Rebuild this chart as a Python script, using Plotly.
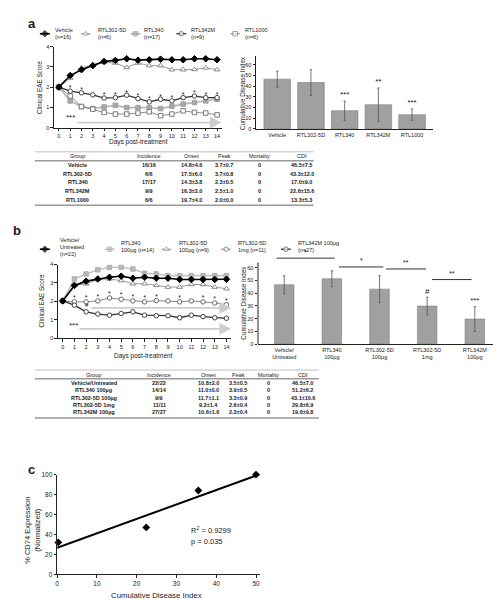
import plotly.graph_objects as go
import numpy as np

W, H = 501, 600
def px(x):
    return x / W
def py(y):
    return 1 - y / H

FONT = "Arial, Liberation Sans, sans-serif"
INK = "#1a1a1a"

# ---------------- DATA ----------------
days = list(range(15))

# panel a: clinical scores
a_vehicle = [2.0, 2.57, 2.86, 3.06, 3.27, 3.32, 3.4, 3.33, 3.35, 3.38, 3.35, 3.35, 3.4, 3.4, 3.35]
a_rtl3025d = [2.0, 2.45, 2.95, 3.1, 3.22, 3.19, 2.97, 3.19, 3.06, 3.06, 2.86, 2.86, 2.87, 2.95, 2.86]
a_rtl340 = [2.0, 1.32, 1.04, 0.94, 1.02, 1.1, 0.99, 0.99, 0.99, 0.94, 1.06, 1.16, 1.24, 1.32, 1.4]
a_rtl342m = [2.0, 1.8, 1.72, 1.62, 1.46, 1.48, 1.6, 1.43, 1.27, 1.4, 1.32, 1.48, 1.56, 1.48, 1.48]
a_rtl1000 = [2.0, 1.56, 1.04, 0.91, 0.75, 0.67, 0.67, 0.72, 0.78, 0.59, 0.67, 0.83, 0.75, 0.72, 0.63]
a_star_days = [1, 2, 4, 5, 6, 7, 8, 9, 10, 11, 12, 13, 14]

# panel a: CDI bars
a_groups = ["Vehicle", "RTL302-5D", "RTL340", "RTL342M", "RTL1000"]
a_cdi = [46.5, 43.3, 17.0, 22.6, 13.3]
a_cdi_err = [7.5, 12.0, 9.0, 15.6, 5.3]
a_sig = ["", "", "***", "**", "***"]

# panel a: table
tab_header = ["Group", "Incidence", "Onset", "Peak", "Mortality", "CDI"]
a_incidence = ["16/16", "6/6", "17/17", "9/9", "6/6"]
a_onset = ["14.8±4.6", "17.5±6.0", "14.3±3.8", "16.3±2.0", "19.7±4.0"]
a_peak = ["3.7±0.7", "3.7±0.8", "2.3±0.5", "2.5±1.0", "2.0±0.0"]
a_mortality = ["0", "0", "0", "0", "0"]
a_cdi_txt = ["46.5±7.5", "43.3±12.0", "17.0±9.0", "22.6±15.6", "13.3±5.3"]

# panel b: clinical scores
b_vehicle = [2.03, 2.87, 3.1, 3.22, 3.31, 3.37, 3.26, 3.31, 3.26, 3.26, 3.19, 3.19, 3.19, 3.19, 3.2]
b_rtl340 = [2.03, 3.22, 3.49, 3.72, 3.85, 3.85, 3.76, 3.53, 3.49, 3.4, 3.4, 3.4, 3.4, 3.4, 3.4]
b_302_100 = [2.03, 2.87, 2.96, 3.19, 3.22, 3.13, 2.96, 2.96, 2.87, 2.78, 2.78, 2.92, 2.92, 2.78, 2.69]
b_302_1mg = [2.03, 1.98, 1.98, 2.03, 2.19, 2.12, 2.03, 1.98, 2.05, 2.03, 1.98, 2.03, 1.98, 1.92, 1.83]
b_342m = [2.03, 1.8, 1.44, 1.32, 1.26, 1.35, 1.44, 1.26, 1.23, 1.23, 1.12, 1.26, 1.18, 1.12, 1.09]
b_star_days = [1, 2, 3, 4, 5, 6, 7, 8, 10, 12, 13, 14]

# panel b: CDI bars
b_groups = ["Vehicle/<br>Untreated", "RTL340<br>100µg", "RTL302-5D<br>100µg", "RTL302-5D<br>1mg", "RTL342M<br>100µg"]
b_cdi = [46.5, 51.2, 43.1, 29.8, 19.6]
b_cdi_err = [7.0, 6.2, 10.6, 6.9, 9.8]
b_sig = ["", "", "", "#", "***"]
b_bracket_labels = ["*", "*", "**", "**"]
b_bracket_from = [-0.16, 1.15, 2.14, 3.1]
b_bracket_to = [1.06, 2.08, 2.98, 3.93]
b_bracket_level = [67.4, 60.5, 58.9, 50.6]

# panel b: table
b_tab_groups = ["Vehicle/Untreated", "RTL340 100µg", "RTL302-5D 100µg", "RTL302-5D 1mg", "RTL342M 100µg"]
b_incidence = ["22/22", "14/14", "9/9", "11/11", "27/27"]
b_onset = ["10.8±2.0", "11.0±0.0", "11.7±1.1", "9.3±1.4", "10.6±1.6"]
b_peak = ["3.5±0.5", "3.9±0.5", "3.3±0.9", "2.6±0.4", "2.3±0.4"]
b_mortality = ["0", "0", "0", "0", "0"]
b_cdi_txt = ["46.5±7.0", "51.2±6.2", "43.1±10.6", "29.8±6.9", "19.6±9.8"]

# panel c
c_cdi = [0.3, 22.4, 35.5, 50.0]
c_cd74 = [32, 47, 84, 100]
c_r2 = "0.9299"
c_p = "0.035"

# ---------------- FIGURE ----------------
fig = go.Figure()

def add_series(xa, ya, x, y, color, lw, symbol, msize, mfill, mline):
    fig.add_trace(go.Scatter(
        x=x, y=y, xaxis=xa, yaxis=ya, mode="lines+markers",
        line=dict(color=color, width=lw),
        marker=dict(symbol=symbol, size=msize, color=mfill, line=dict(color=mline, width=1)),
        showlegend=False, hoverinfo="skip"))

# styles: (color, width, symbol, size, fill, outline)
A_STY = [
    ("#9a9a9a", 1.0, "triangle-up", 5, "white", "#8a8a8a"),   # RTL302-5D
    ("#b5b5b5", 1.6, "square", 4.5, "#a8a8a8", "#a0a0a0"),     # RTL340
    ("#8c8c8c", 1.0, "square", 4.5, "white", "#7a7a7a"),       # RTL1000
    ("#333333", 1.3, "circle", 4.5, "white", "#444444"),       # RTL342M
    ("#000000", 1.6, "diamond", 5, "#000000", "#000000"),      # Vehicle
]
add_series("x", "y", days, a_rtl3025d, *A_STY[0])
add_series("x", "y", days, a_rtl340, *A_STY[1])
add_series("x", "y", days, a_rtl1000, *A_STY[2])
add_series("x", "y", days, a_rtl342m, *A_STY[3])
add_series("x", "y", days, a_vehicle, *A_STY[4])

fig.add_trace(go.Scatter(
    x=a_star_days, y=[a_rtl342m[d] + 0.12 for d in a_star_days], xaxis="x", yaxis="y",
    mode="text", text=["*"] * len(a_star_days),
    textfont=dict(family=FONT, size=7, color=INK), showlegend=False, hoverinfo="skip"))

# panel a bars
fig.add_trace(go.Bar(
    x=a_groups, y=a_cdi, xaxis="x2", yaxis="y2", width=0.79,
    marker=dict(color="#a0a0a0", line=dict(color="#7d7d7d", width=0.6)),
    error_y=dict(type="data", array=a_cdi_err, color="#555555", thickness=0.8, width=1.2),
    showlegend=False, hoverinfo="skip"))
a_sig_idx = [i for i, s in enumerate(a_sig) if s]
fig.add_trace(go.Scatter(
    x=[a_groups[i] for i in a_sig_idx],
    y=[a_cdi[i] + a_cdi_err[i] + 6 for i in a_sig_idx], xaxis="x2", yaxis="y2",
    mode="text", text=[a_sig[i] for i in a_sig_idx], textfont=dict(family=FONT, size=8, color=INK),
    showlegend=False, hoverinfo="skip"))

# panel b lines
B_STY = [
    ("#c4c4c4", 1.6, "square", 4.5, "#b8b8b8", "#b0b0b0"),     # RTL340 100
    ("#9a9a9a", 1.0, "triangle-up", 5, "white", "#8a8a8a"),    # RTL302-5D 100
    ("#8a8a8a", 1.0, "circle", 4.5, "white", "#6a6a6a"),       # RTL302-5D 1mg
    ("#333333", 1.3, "circle", 4.5, "white", "#444444"),       # RTL342M 100
    ("#000000", 1.6, "diamond", 5, "#000000", "#000000"),      # Vehicle
]
add_series("x3", "y3", days, b_rtl340, *B_STY[0])
add_series("x3", "y3", days, b_302_100, *B_STY[1])
add_series("x3", "y3", days, b_302_1mg, *B_STY[2])
add_series("x3", "y3", days, b_342m, *B_STY[3])
add_series("x3", "y3", days, b_vehicle, *B_STY[4])
fig.add_trace(go.Scatter(
    x=b_star_days, y=[b_302_1mg[d] + 0.2 for d in b_star_days], xaxis="x3", yaxis="y3",
    mode="text", text=["*"] * len(b_star_days),
    textfont=dict(family=FONT, size=7, color=INK), showlegend=False, hoverinfo="skip"))

# panel b bars
fig.add_trace(go.Bar(
    x=b_groups, y=b_cdi, xaxis="x4", yaxis="y4", width=0.41,
    marker=dict(color="#a0a0a0", line=dict(color="#7d7d7d", width=0.6)),
    error_y=dict(type="data", array=b_cdi_err, color="#555555", thickness=0.8, width=1.2),
    showlegend=False, hoverinfo="skip"))
b_sig_idx = [i for i, s in enumerate(b_sig) if s]
fig.add_trace(go.Scatter(
    x=[b_groups[i] for i in b_sig_idx],
    y=[b_cdi[i] + b_cdi_err[i] + 4.5 for i in b_sig_idx], xaxis="x4", yaxis="y4",
    mode="text", text=[b_sig[i] for i in b_sig_idx], textfont=dict(family=FONT, size=8, color=INK),
    showlegend=False, hoverinfo="skip"))

# panel c
slope, intercept = np.polyfit(c_cdi, c_cd74, 1)
fit_x = np.array([0.0, 50.8])
fig.add_trace(go.Scatter(
    x=fit_x, y=slope * fit_x + intercept, xaxis="x5", yaxis="y5", mode="lines",
    line=dict(color="#000000", width=2), showlegend=False, hoverinfo="skip", cliponaxis=False))
fig.add_trace(go.Scatter(
    x=c_cdi, y=c_cd74, xaxis="x5", yaxis="y5", mode="markers",
    marker=dict(symbol="diamond", size=6, color="#000000"),
    showlegend=False, hoverinfo="skip", cliponaxis=False))

# ---------------- manual legends (overlay axis in pixel units) ----------------
A_LEG_TXT = ["Vehicle<br>(n=16)", "RTL302-5D<br>(n=6)", "RTL340<br>(n=17)", "RTL342M<br>(n=9)", "RTL1000<br>(n=6)"]
A_LEG_STY = [A_STY[4], A_STY[0], A_STY[1], A_STY[3], A_STY[2]]
A_LEG_MX = [35, 76, 126, 172, 226]
A_LEG_TX = [43, 86, 133, 180, 234]
B_LEG_TXT = ["Vehicle/<br>Untreated<br>(n=22)", "RTL340<br>100µg (n=14)", "RTL302-5D<br>100µg (n=9)",
             "RTL302-5D<br>1mg (n=11)", "RTL342M 100µg<br>(n=27)"]
B_LEG_STY = [B_STY[4], B_STY[0], B_STY[1], B_STY[2], B_STY[3]]
B_LEG_MX = [35, 100, 157, 217, 277]
B_LEG_TX = [48, 109, 168, 227, 287]

annotations = []

def legend_row(mxs, my, stys, txs, ty, texts):
    for mx, sty, tx, t in zip(mxs, stys, txs, texts):
        color, lw, sym, ms, fill, ol = sty
        fig.add_trace(go.Scatter(
            x=[mx - 5, mx, mx + 5], y=[my, my, my], xaxis="x6", yaxis="y6",
            mode="lines+markers", line=dict(color=color, width=lw),
            marker=dict(symbol=sym, size=[0, ms, 0], color=fill, line=dict(color=ol, width=1)),
            showlegend=False, hoverinfo="skip"))
        annotations.append(dict(
            x=px(tx), y=py(ty), xref="paper", yref="paper", text=t, showarrow=False,
            xanchor="left", yanchor="middle", align="left",
            font=dict(family=FONT, size=5.5, color=INK)))

legend_row(A_LEG_MX, 22, A_LEG_STY, A_LEG_TX, 22, A_LEG_TXT)
legend_row(B_LEG_MX, 240, B_LEG_STY, B_LEG_TX, 237.5, B_LEG_TXT)

# ---------------- text annotations ----------------
def txt(x, y, t, size, angle=0, bold=False, anchor="center"):
    annotations.append(dict(
        x=px(x), y=py(y), xref="paper", yref="paper",
        text=("<b>%s</b>" % t) if bold else t, showarrow=False, textangle=angle,
        xanchor=anchor, yanchor="middle", align="center",
        font=dict(family=FONT, size=size, color=INK)))

txt(22, 12, "a", 13, bold=True)
txt(7, 221, "b", 13, bold=True)
txt(22, 463, "c", 13, bold=True)

txt(29, 76, "Clinical EAE Score", 6.3, angle=-90)
txt(129, 132, "Days post-treatment", 6.5)
txt(233, 82, "Cumulative Disease Index", 6.3, angle=-90)
txt(32, 292, "Clinical EAE Score", 6.3, angle=-90)
txt(134, 348, "Days post-treatment", 6.5)
txt(235, 294, "Cumulative Disease Index", 6.3, angle=-90)
txt(23, 524, "% CD74 Expression<br>(Normalized)", 7.5, angle=-90)
txt(147, 590, "Cumulative Disease Index", 7.8)
txt(180, 524, "R<sup>2</sup> = " + c_r2, 7.5, anchor="left")
txt(180, 536, "p = " + c_p, 7.5, anchor="left")

# in-plot significance marks
annotations.append(dict(x=1.05, y=0.5, xref="x", yref="y", text="***", showarrow=False,
                        font=dict(family=FONT, size=8, color=INK)))
annotations.append(dict(x=0.93, y=0.72, xref="x3", yref="y3", text="***", showarrow=False,
                        font=dict(family=FONT, size=8, color=INK)))
annotations.append(dict(x=2.1, y=1.8, xref="x3", yref="y3", text="#", showarrow=False,
                        font=dict(family=FONT, size=6, color=INK)))

# gray arrows
for xr, yr, x0, yv in [("x", "y", 1.5, 0.25), ("x3", "y3", 2.3, 1.65), ("x3", "y3", 1.3, 0.52)]:
    annotations.append(dict(x=14.4, y=yv, ax=x0, ay=yv, xref=xr, yref=yr, axref=xr, ayref=yr,
                            text="", showarrow=True, arrowhead=2, arrowsize=1.3, arrowwidth=1.8,
                            arrowcolor="#cdcdcd"))

# brackets in panel b bars
shapes = []
for lab, f, t, lv in zip(b_bracket_labels, b_bracket_from, b_bracket_to, b_bracket_level):
    shapes.append(dict(type="line", xref="x4", yref="y4", x0=f, x1=t, y0=lv, y1=lv,
                       line=dict(color="#333333", width=1)))
    annotations.append(dict(x=(f + t) / 2, y=lv + 0.4, xref="x4", yref="y4", text=lab,
                            showarrow=False, yanchor="bottom",
                            font=dict(family=FONT, size=7, color=INK)))
# y axis line for panel b bars (axis ends at 64)
shapes.append(dict(type="line", xref="x4 domain", yref="y4", x0=0, x1=0, y0=0, y1=64,
                   line=dict(color="#222222", width=1)))

# ---------------- tables ----------------
def table(cols_x, y_head, y_rows, rules, x0, x1, group_col, other_cols):
    for cx, h in zip(cols_x, tab_header):
        txt(cx, y_head, h, 5.5)
    for i, yr in enumerate(y_rows):
        txt(cols_x[0], yr, group_col[i], 5.5, bold=True)
        for cx, col in zip(cols_x[1:], other_cols):
            txt(cx, yr, col[i], 5.5, bold=True)
    for k, ry in enumerate(rules):
        shapes.append(dict(type="line", xref="paper", yref="paper", x0=px(x0), x1=px(x1),
                           y0=py(ry), y1=py(ry),
                           line=dict(color="#b0b0b0" if k == 0 else "#999999",
                                     width=0.8 if k == 0 else 1.5)))

table([68, 140, 182, 215, 250, 293], 146, [155, 164, 172.5, 181.5, 190.5], [141.5, 150.5, 195.5],
      25, 305, a_groups, [a_incidence, a_onset, a_peak, a_mortality, a_cdi_txt])
table([84, 150, 199, 229, 260, 294], 367.3, [375.3, 382.7, 390.5, 397.7, 405], [362.3, 371, 410.7],
      25, 310, b_tab_groups, [b_incidence, b_onset, b_peak, b_mortality, b_cdi_txt])

# ---------------- axes ----------------
def ax(**kw):
    d = dict(showline=True, linecolor="#222222", linewidth=1, ticks="outside", ticklen=2.5,
             tickwidth=1, tickcolor="#222222", showgrid=False, zeroline=False,
             tickfont=dict(family=FONT, size=5.5, color=INK), fixedrange=True)
    d.update(kw)
    return d

fig.update_layout(
    width=W, height=H, margin=dict(l=0, r=0, t=0, b=0),
    paper_bgcolor="white", plot_bgcolor="rgba(0,0,0,0)",
    font=dict(family=FONT, color=INK), showlegend=False,
    xaxis=ax(domain=[px(44), px(213)], range=[-0.45, 14.45], tickvals=days, anchor="y"),
    yaxis=ax(domain=[py(117), py(35)], range=[0, 4], dtick=1, anchor="x"),
    xaxis2=ax(domain=[px(247), px(425)], range=[-0.63, 4.63], type="category", anchor="y2",
              ticks=""),
    yaxis2=ax(domain=[py(118.3), py(118.3 - 68 * 1.083)], range=[0, 68],
              tickvals=[0, 10, 20, 30, 40, 50, 60], anchor="x2"),
    xaxis3=ax(domain=[px(48), px(222)], range=[-0.42, 14.4], tickvals=days, anchor="y3"),
    yaxis3=ax(domain=[py(330.3), py(255.5)], range=[0, 4], dtick=1, anchor="x3"),
    xaxis4=ax(domain=[px(249), px(493)], range=[-0.55, 4.55], type="category", anchor="y4",
              ticks=""),
    yaxis4=ax(domain=[py(336), py(336 - 72 * 1.29)], range=[0, 72], showline=False,
              tickvals=[0, 10, 20, 30, 40, 50, 60], anchor="x4"),
    xaxis5=ax(domain=[px(47.3), px(251)], range=[0, 51], tickvals=[0, 10, 20, 30, 40, 50],
              anchor="y5", tickfont=dict(family=FONT, size=6.5, color=INK)),
    yaxis5=ax(domain=[py(569), py(468)], range=[0, 100], tickvals=[0, 20, 40, 60, 80, 100],
              anchor="x5", tickfont=dict(family=FONT, size=6.5, color=INK)),
    xaxis6=dict(domain=[0, 1], range=[0, W], visible=False, anchor="y6", fixedrange=True),
    yaxis6=dict(domain=[0, 1], range=[H, 0], visible=False, anchor="x6", fixedrange=True),
    annotations=annotations, shapes=shapes,
)

fig.write_html("out.html")
